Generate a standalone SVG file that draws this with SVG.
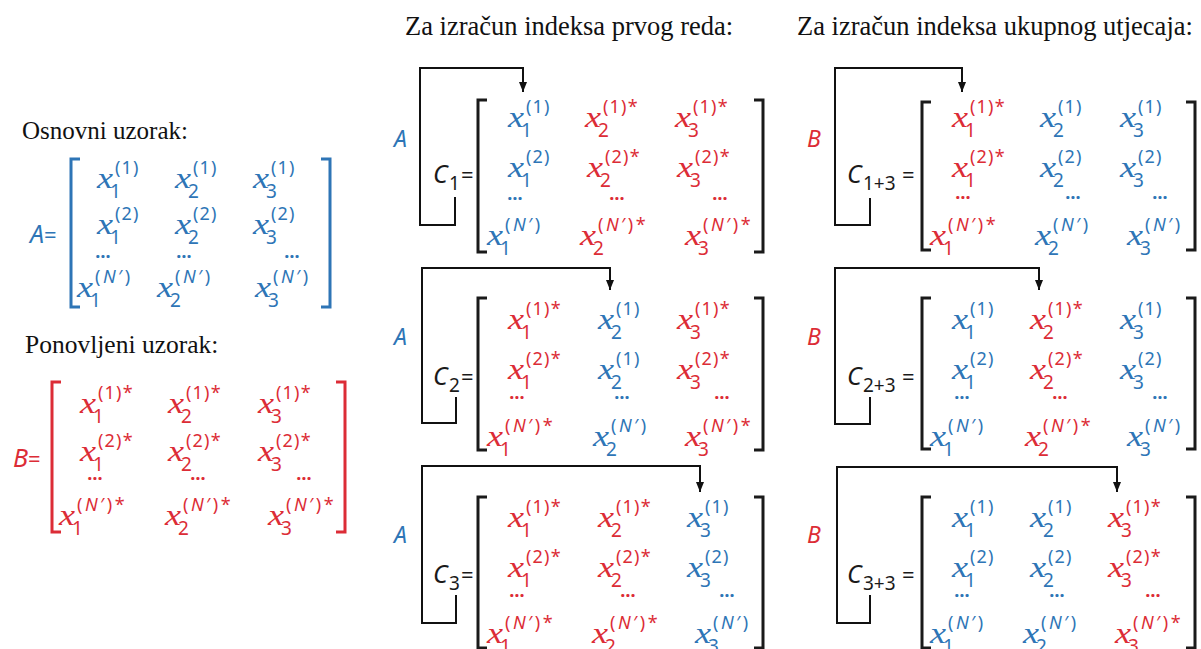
<svg xmlns="http://www.w3.org/2000/svg" width="1201" height="649" viewBox="0 0 1201 649">
<style>
text{font-family:"Noto Sans","DejaVu Sans",sans-serif}
.hd{font-family:"Liberation Serif","Times New Roman",serif;font-size:26.5px;fill:#111}
.xv{font-family:"Liberation Serif","Times New Roman",serif;font-style:italic;font-size:30px}
.sb{font-size:19px}
.sp{font-size:18px;letter-spacing:1.2px}
.it{font-style:italic}
.pn{letter-spacing:2.5px}
.dt{font-size:18px;font-weight:bold;text-anchor:middle}
.b{fill:#2e75b6}
.r{fill:#dc2c36}
.lb{font-style:italic;font-size:23px}
.cl{font-style:italic;font-size:25px;fill:#1a1a1a}
.cs{font-size:19px;fill:#1a1a1a}
.eq{font-size:22px;fill:#1a1a1a}
.br{fill:none;stroke-width:3}
.bb{stroke:#2e75b6}.brd{stroke:#dc2c36}.bk{stroke:#1a1a1a}
.cn{fill:none;stroke:#111;stroke-width:2}
</style>
<defs>
<marker id="ah" viewBox="0 0 10 8" refX="10" refY="4" markerWidth="10" markerHeight="8" orient="auto" markerUnits="userSpaceOnUse"><path d="M0,0 L10,4 L0,8 z" fill="#111"/></marker>
<text id="xg" class="xv" transform="scale(1.2,1)">x</text>
<g id="a11"><use href="#xg"/><text class="sb" x="13" y="10">1</text><text class="sp" x="18" y="-14">(1)</text></g>
<g id="a12"><use href="#xg"/><text class="sb" x="13" y="10">1</text><text class="sp" x="18" y="-14">(2)</text></g>
<g id="a1N"><use href="#xg"/><text class="sb" x="13" y="10">1</text><text class="sp pn" x="18" y="-14">(<tspan class="it">N</tspan>′)</text></g>
<g id="a21"><use href="#xg"/><text class="sb" x="13" y="10">2</text><text class="sp" x="18" y="-14">(1)</text></g>
<g id="a22"><use href="#xg"/><text class="sb" x="13" y="10">2</text><text class="sp" x="18" y="-14">(2)</text></g>
<g id="a2N"><use href="#xg"/><text class="sb" x="13" y="10">2</text><text class="sp pn" x="18" y="-14">(<tspan class="it">N</tspan>′)</text></g>
<g id="a31"><use href="#xg"/><text class="sb" x="13" y="10">3</text><text class="sp" x="18" y="-14">(1)</text></g>
<g id="a32"><use href="#xg"/><text class="sb" x="13" y="10">3</text><text class="sp" x="18" y="-14">(2)</text></g>
<g id="a3N"><use href="#xg"/><text class="sb" x="13" y="10">3</text><text class="sp pn" x="18" y="-14">(<tspan class="it">N</tspan>′)</text></g>
<g id="s11"><use href="#xg"/><text class="sb" x="13" y="10">1</text><text class="sp" x="18" y="-14">(1)*</text></g>
<g id="s12"><use href="#xg"/><text class="sb" x="13" y="10">1</text><text class="sp" x="18" y="-14">(2)*</text></g>
<g id="s1N"><use href="#xg"/><text class="sb" x="13" y="10">1</text><text class="sp pn" x="18" y="-14">(<tspan class="it">N</tspan>′)*</text></g>
<g id="s21"><use href="#xg"/><text class="sb" x="13" y="10">2</text><text class="sp" x="18" y="-14">(1)*</text></g>
<g id="s22"><use href="#xg"/><text class="sb" x="13" y="10">2</text><text class="sp" x="18" y="-14">(2)*</text></g>
<g id="s2N"><use href="#xg"/><text class="sb" x="13" y="10">2</text><text class="sp pn" x="18" y="-14">(<tspan class="it">N</tspan>′)*</text></g>
<g id="s31"><use href="#xg"/><text class="sb" x="13" y="10">3</text><text class="sp" x="18" y="-14">(1)*</text></g>
<g id="s32"><use href="#xg"/><text class="sb" x="13" y="10">3</text><text class="sp" x="18" y="-14">(2)*</text></g>
<g id="s3N"><use href="#xg"/><text class="sb" x="13" y="10">3</text><text class="sp pn" x="18" y="-14">(<tspan class="it">N</tspan>′)*</text></g>
</defs>
<rect width="1201" height="649" fill="#fff"/>

<g id="headings">
<text class="hd" x="405" y="35">Za izračun indeksa prvog reda:</text>
<text class="hd" x="797" y="35">Za izračun indeksa ukupnog utjecaja:</text>
</g>

<g id="matrixA">
<text class="hd" x="22" y="139" style="font-size:25px">Osnovni uzorak:</text>
<text x="30" y="243" class="b"><tspan class="it" style="font-size:25px">A</tspan><tspan style="font-size:22px">=</tspan></text>
<path class="br bb" d="M80,159 H71 V307 H80 M321,159 H330 V307 H321"/>
<g class="b">
<use href="#a11" x="97" y="188"/><use href="#a21" x="175" y="188"/><use href="#a31" x="253" y="188"/>
<use href="#a12" x="97" y="234"/><use href="#a22" x="175" y="234"/><use href="#a32" x="253" y="234"/>
<text class="dt" x="103" y="258">…</text><text class="dt" x="184" y="258">…</text><text class="dt" x="292" y="258">…</text>
<use href="#a1N" x="77" y="297"/><use href="#a2N" x="157" y="297"/><use href="#a3N" x="255" y="297"/>
</g>
</g>

<g id="matrixB">
<text class="hd" x="25" y="353" style="font-size:25.5px">Ponovljeni uzorak:</text>
<text x="13" y="467" class="r"><tspan class="it" style="font-size:25px">B</tspan><tspan style="font-size:22px">=</tspan></text>
<path class="br brd" d="M61,382 H52 V532 H61 M336,382 H345 V532 H336"/>
<g class="r">
<use href="#s11" x="80" y="413"/><use href="#s21" x="168" y="413"/><use href="#s31" x="258" y="413"/>
<use href="#s12" x="80" y="461"/><use href="#s22" x="168" y="461"/><use href="#s32" x="258" y="461"/>
<text class="dt" x="95" y="480">…</text><text class="dt" x="198" y="480">…</text><text class="dt" x="304" y="480">…</text>
<use href="#s1N" x="59" y="525"/><use href="#s2N" x="165" y="525"/><use href="#s3N" x="268" y="525"/>
</g>
</g>

<g id="C1">
<text class="lb b" x="394" y="147">A</text>
<text class="cl" x="433" y="183">C</text><text class="cs" x="449" y="190">1</text><text class="eq" x="461" y="183">=</text>
<path class="br bk" d="M487,100 H478 V252 H487 M754,100 H763 V252 H754"/>
<g class="b"><use href="#a11" x="508" y="127"/><use href="#a12" x="508" y="177"/><text class="dt" x="515" y="200">…</text><use href="#a1N" x="487" y="245"/></g>
<g class="r"><use href="#s21" x="585" y="127"/><use href="#s22" x="587" y="177"/><text class="dt" x="617" y="200">…</text><use href="#s2N" x="580" y="245"/>
<use href="#s31" x="675" y="127"/><use href="#s32" x="677" y="177"/><text class="dt" x="720" y="200">…</text><use href="#s3N" x="685" y="245"/></g>
</g>

<g id="C2">
<text class="lb b" x="394" y="345">A</text>
<text class="cl" x="433" y="385">C</text><text class="cs" x="449" y="392">2</text><text class="eq" x="461" y="385">=</text>
<path class="br bk" d="M487,298 H478 V450 H487 M754,298 H763 V450 H754"/>
<g class="r"><use href="#s11" x="508" y="329"/><use href="#s12" x="508" y="379"/><text class="dt" x="517" y="399">…</text><use href="#s1N" x="487" y="446"/>
<use href="#s31" x="677" y="329"/><use href="#s32" x="677" y="379"/><text class="dt" x="722" y="399">…</text><use href="#s3N" x="685" y="446"/></g>
<g class="b"><use href="#a21" x="598" y="329"/><use href="#a21" x="598" y="379"/><text class="dt" x="622" y="399">…</text><use href="#a2N" x="593" y="446"/></g>
</g>

<g id="C3">
<text class="lb b" x="394" y="543">A</text>
<text class="cl" x="433" y="583">C</text><text class="cs" x="449" y="590">3</text><text class="eq" x="461" y="583">=</text>
<path class="br bk" d="M487,497 H478 V648 H487 M754,497 H763 V648 H754"/>
<g class="r"><use href="#s11" x="508" y="527"/><use href="#s12" x="508" y="577"/><text class="dt" x="517" y="597">…</text><use href="#s1N" x="487" y="643"/>
<use href="#s21" x="598" y="527"/><use href="#s22" x="598" y="577"/><text class="dt" x="628" y="597">…</text><use href="#s2N" x="592" y="643"/></g>
<g class="b"><use href="#a31" x="687" y="527"/><use href="#a32" x="687" y="577"/><text class="dt" x="727" y="597">…</text><use href="#a3N" x="695" y="643"/></g>
</g>

<g id="C13">
<text class="lb r" x="807" y="147">B</text>
<text class="cl" x="847" y="183">C</text><text class="cs" x="863" y="190">1+3</text><text class="eq" x="902" y="183">=</text>
<path class="br bk" d="M931,102 H922 V250 H931 M1186,102 H1195 V250 H1186"/>
<g class="r"><use href="#s11" x="952" y="127"/><use href="#s12" x="952" y="177"/><text class="dt" x="963" y="199">…</text><use href="#s1N" x="930" y="245"/></g>
<g class="b"><use href="#a21" x="1040" y="127"/><use href="#a22" x="1040" y="177"/><text class="dt" x="1073" y="199">…</text><use href="#a2N" x="1035" y="245"/>
<use href="#a31" x="1120" y="127"/><use href="#a32" x="1120" y="177"/><text class="dt" x="1160" y="199">…</text><use href="#a3N" x="1127" y="245"/></g>
</g>

<g id="C23">
<text class="lb r" x="807" y="345">B</text>
<text class="cl" x="847" y="385">C</text><text class="cs" x="863" y="392">2+3</text><text class="eq" x="902" y="385">=</text>
<path class="br bk" d="M931,298 H922 V449 H931 M1186,298 H1195 V449 H1186"/>
<g class="b"><use href="#a11" x="952" y="329"/><use href="#a12" x="952" y="379"/><text class="dt" x="962" y="399">…</text><use href="#a1N" x="930" y="446"/>
<use href="#a31" x="1120" y="329"/><use href="#a32" x="1120" y="379"/><text class="dt" x="1160" y="399">…</text><use href="#a3N" x="1127" y="446"/></g>
<g class="r"><use href="#s21" x="1030" y="329"/><use href="#s22" x="1030" y="379"/><text class="dt" x="1060" y="399">…</text><use href="#s2N" x="1025" y="446"/></g>
</g>

<g id="C33">
<text class="lb r" x="807" y="543">B</text>
<text class="cl" x="847" y="583">C</text><text class="cs" x="863" y="590">3+3</text><text class="eq" x="902" y="583">=</text>
<path class="br bk" d="M931,497 H922 V648 H931 M1186,497 H1195 V648 H1186"/>
<g class="b"><use href="#a11" x="952" y="527"/><use href="#a12" x="952" y="577"/><text class="dt" x="962" y="597">…</text><use href="#a1N" x="930" y="643"/>
<use href="#a21" x="1030" y="527"/><use href="#a22" x="1030" y="577"/><text class="dt" x="1057" y="597">…</text><use href="#a2N" x="1023" y="643"/></g>
<g class="r"><use href="#s31" x="1108" y="527"/><use href="#s32" x="1108" y="577"/><text class="dt" x="1153" y="597">…</text><use href="#s3N" x="1115" y="643"/></g>
</g>

<g id="connectors">
<path class="cn" d="M455,197 V225 H420 V68 H523 V92" marker-end="url(#ah)"/>
<path class="cn" d="M456,397 V423 H422 V268 H610 V290" marker-end="url(#ah)"/>
<path class="cn" d="M456,595 V623 H422 V466 H700 V492" marker-end="url(#ah)"/>
<path class="cn" d="M870,198 V225 H835 V68 H962 V92" marker-end="url(#ah)"/>
<path class="cn" d="M870,397 V424 H835 V268 H1039 V290" marker-end="url(#ah)"/>
<path class="cn" d="M870,595 V623 H837 V467 H1117 V492" marker-end="url(#ah)"/>
</g>
</svg>
